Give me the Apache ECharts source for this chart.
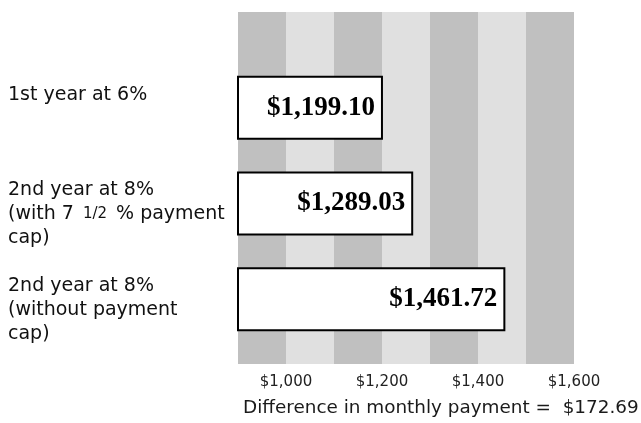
<!DOCTYPE html>
<html>
	<head>
		<meta charset="UTF-8" />
		<title>Monthly payment comparison</title>
		<style>
			html, body { margin: 0; padding: 0; background: #fff; }
			#chart { width: 641px; height: 423px; }
		</style>
	</head>
	<body>
		<div id="chart"></div>
		<script src="https://cdn.jsdelivr.net/npm/echarts@6/dist/echarts.min.js"></script>
		<script>
			// categories (three-line blocks, as in the reference)
			const categories = [
				"1st year at 6%\n\n",
				"2nd year at 8%\n(with 7 1/2 % payment\ncap)",
				"2nd year at 8%\n(without payment\ncap)"
			];
			// bar ends as drawn in the picture
			const payments = [1202, 1265, 1457];
			// text printed in each bar
			const paymentLabels = ["$1,199.10", "$1,289.03", "$1,461.72"];
			// axis
			const axisMin = 900;
			const axisMax = 1600;
			const axisStep = 100;
			const footnote = "Difference in monthly payment =  $172.69";

			const chart = echarts.init(document.getElementById("chart"));
			const sans = "DejaVu Sans";

			const option = {
				animation: false,
				title: {
					text: footnote,
					left: 238,
					top: 394,
					textStyle: {
						fontFamily: sans,
						fontSize: 18.4,
						fontWeight: "normal",
						color: "#1a1a1a"
					}
				},
				grid: [
					// striped background
					{ left: 238, right: 67, top: 12, bottom: 59 },
					// bars
					{ left: 238, right: 67, top: 60, height: 287 }
				],
				xAxis: [{
					gridIndex: 0,
					type: "value",
					min: axisMin,
					max: axisMax,
					interval: axisStep,
					axisLine: { show: false },
					axisTick: { show: false },
					splitLine: { show: false },
					splitArea: {
						show: true,
						areaStyle: { color: ["#c0c0c0", "#e0e0e0"] }
					},
					axisLabel: {
						margin: 11,
						fontFamily: sans,
						fontSize: 15,
						color: "#222",
						showMinLabel: false,
						formatter: function(v) {
							if(v % 200 !== 0) return "";
							return "$" + v.toLocaleString("en-US");
						}
					}
				}, {
					gridIndex: 1,
					type: "value",
					min: axisMin,
					max: axisMax,
					show: false
				}],
				yAxis: [{
					gridIndex: 0,
					type: "value",
					show: false
				}, {
					gridIndex: 1,
					type: "category",
					inverse: true,
					data: categories,
					axisLine: { show: false },
					axisTick: { show: false },
					axisLabel: {
						align: "left",
						margin: 230,
						padding: [22, 0, 0, 0],
						fontFamily: sans,
						fontSize: 19,
						lineHeight: 24,
						color: "#111",
						formatter: function(v) {
							return v.replace("1/2", "{s|1/2}");
						},
						rich: {
							s: { fontFamily: sans, fontSize: 15, lineHeight: 24, color: "#111", padding: [0, 3, 0, 3] }
						}
					}
				}],
				series: [{
					type: "bar",
					xAxisIndex: 1,
					yAxisIndex: 1,
					data: payments,
					barWidth: 64,
					itemStyle: {
						color: "#fff",
						borderColor: "#000",
						borderWidth: 2
					},
					label: {
						show: true,
						position: "insideRight",
						distance: 8,
						fontFamily: "'Times New Roman', 'Liberation Serif', serif",
						fontWeight: "bold",
						fontSize: 27,
						color: "#000",
						formatter: function(p) {
							return paymentLabels[p.dataIndex];
						}
					}
				}]
			};
			chart.setOption(option);
		</script>
	</body>
</html>
